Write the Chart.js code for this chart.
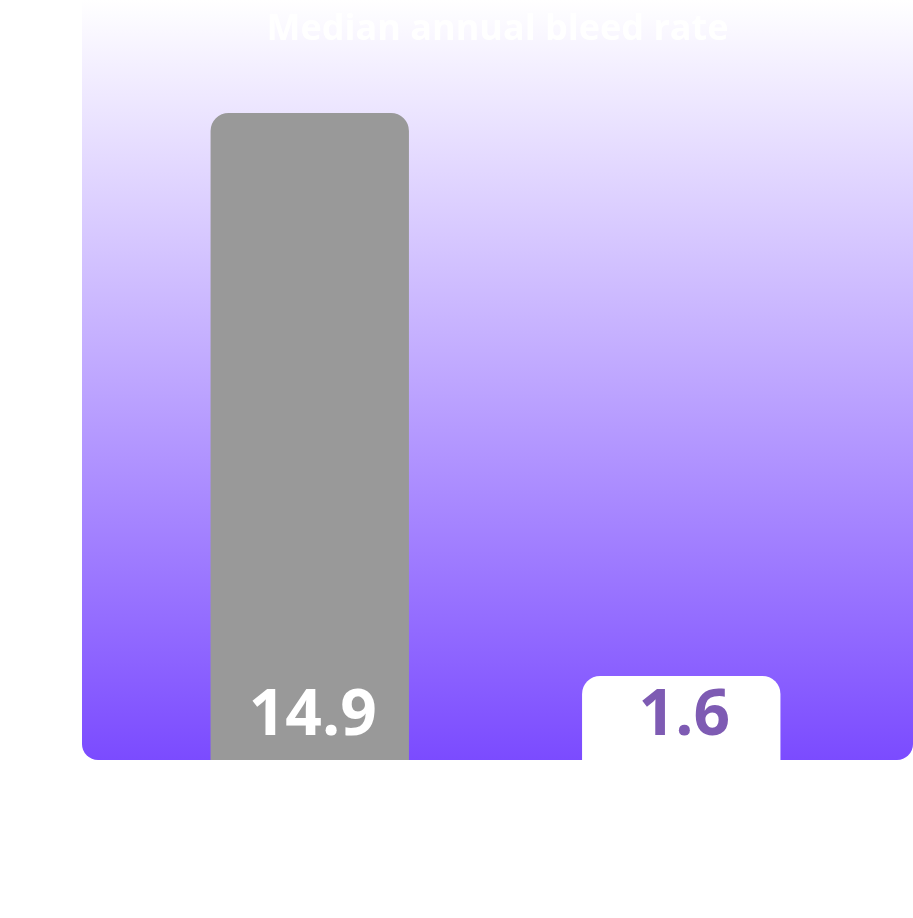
<!DOCTYPE html>
<html>
<head>
<meta charset="utf-8">
<script src="https://cdn.jsdelivr.net/npm/chart.js@4"></script>
<style>
  html, body { margin: 0; padding: 0; background: #fff; }
  #wrap { width: 913px; height: 918px; }
</style>
</head>
<body>
<div id="wrap"><canvas id="chart"></canvas></div>
<script>
// data
const categories = ['Before', 'After'];
const bleedRates = [14.9, 1.6];
const barColors = ['#999999', '#ffffff'];
const labelColors = ['#ffffff', '#7e5bb3'];
const chartTitle = 'Median annual bleed rate';

// gradient panel behind the bars, with the title on it
const panelPlugin = {
    id: 'panel',
    beforeDraw(chart) {
        const { ctx, chartArea: a } = chart;
        const left = 82, right = chart.width;
        const g = ctx.createLinearGradient(0, a.top, 0, a.bottom);
        g.addColorStop(0, '#ffffff');
        g.addColorStop(0.5, '#bea6ff');
        g.addColorStop(1, '#7b4bff');
        ctx.save();
        ctx.fillStyle = g;
        ctx.beginPath();
        ctx.roundRect(left, a.top, right - left, a.bottom - a.top, [0, 0, 16, 16]);
        ctx.fill();
        ctx.fillStyle = '#ffffff';
        ctx.font = 'bold 36px "Open Sans"';
        ctx.textAlign = 'center';
        ctx.textBaseline = 'middle';
        ctx.fillText(chartTitle, (left + right) / 2, a.top + 30);
        ctx.restore();
    },
    afterDatasetsDraw(chart) {
        const { ctx } = chart;
        const meta = chart.getDatasetMeta(0);
        ctx.save();
        ctx.font = 'bold 64px "Open Sans"';
        ctx.textAlign = 'center';
        ctx.textBaseline = 'middle';
        meta.data.forEach((bar, i) => {
            ctx.fillStyle = labelColors[i];
            ctx.fillText(String(bleedRates[i]), bar.x + 3, bar.base - 43);
        });
        ctx.restore();
    }
};

new Chart(document.getElementById('chart'), {
    type: 'bar',
    data: {
        labels: categories,
        datasets: [{
            data: bleedRates,
            backgroundColor: barColors,
            borderRadius: { topLeft: 18, topRight: 18, bottomLeft: 0, bottomRight: 0 },
            borderSkipped: 'bottom',
            barPercentage: 0.534,
            categoryPercentage: 1,
            minBarLength: 84
        }]
    },
    options: {
        responsive: true,
        maintainAspectRatio: false,
        animation: false,
        layout: { padding: { left: 124, right: 46, top: 0, bottom: 158 } },
        plugins: { legend: { display: false }, tooltip: { enabled: false } },
        scales: {
            x: { display: false, offset: true },
            y: { display: false, min: 0, max: 17.5 }
        }
    },
    plugins: [panelPlugin]
});
</script>
</body>
</html>
